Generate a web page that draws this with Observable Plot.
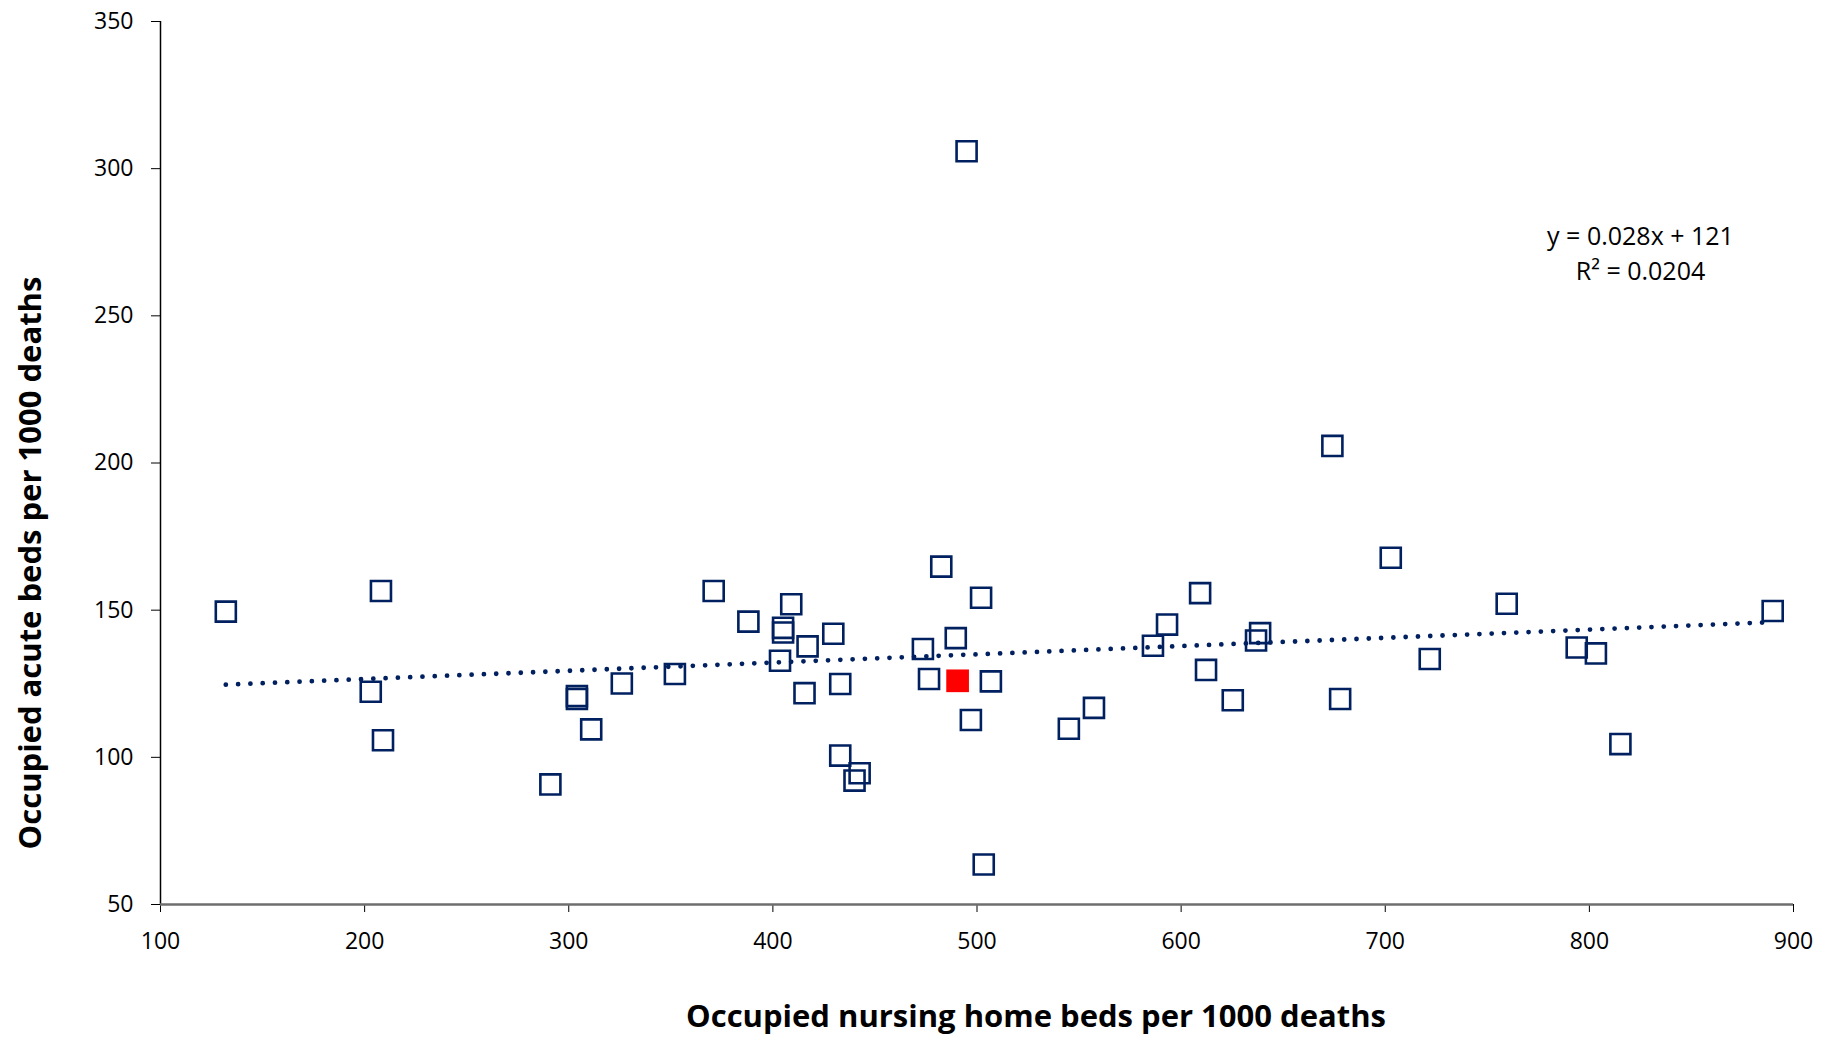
<!DOCTYPE html>
<html>
<head>
<meta charset="utf-8">
<script src="https://cdn.jsdelivr.net/npm/d3@7"></script>
<script src="https://cdn.jsdelivr.net/npm/@observablehq/plot@0.6"></script>
<style>
  body { margin: 0; background: #fff; }
  #chart svg { display: block; }
</style>
</head>
<body>
<div id="chart"></div>
<script>
// nursing home beds (x) and acute beds (y), per 1000 deaths
const nursingBeds = [
  132, 208, 203, 209, 291, 304, 304, 311, 326, 352,
  371, 388, 409, 405, 405, 403.5, 417, 415.5, 429.6, 433,
  433, 442.5, 440, 482.5, 502, 489.6, 473.5, 476.5, 506.8, 497,
  503.3, 545, 557.3, 586.2, 593.1, 609.3, 612.2, 625.3, 638.7, 636.7,
  702.7, 677.9, 721.8, 759.5, 793.8, 803.2, 815.2, 889.8, 494.9, 674.1
];
const acuteBeds = [
  149.5, 156.5, 122.3, 105.8, 90.8, 120.8, 119.8, 109.5, 125.1, 128.3,
  156.5, 146.1, 152, 144, 142.4, 132.8, 137.7, 121.8, 142, 124.9,
  100.6, 94.6, 92.1, 164.8, 154.2, 140.5, 136.8, 126.6, 125.8, 112.7,
  63.6, 109.7, 116.8, 137.9, 145.1, 155.8, 129.7, 119.4, 142.2, 139.7,
  167.8, 119.8, 133.4, 152.2, 137.3, 135.3, 104.5, 149.7, 305.9, 205.8
];

// the highlighted (red) point
const highlightX = [490.5];
const highlightY = [126];

// linear trend as printed on the chart
const trendSlope = 0.028;
const trendIntercept = 121;
const trendLabel = "y = 0.028x + 121";
const r2Label = "R² = 0.0204";

const xTicks = [100, 200, 300, 400, 500, 600, 700, 800, 900];
const yTicks = [50, 100, 150, 200, 250, 300, 350];

const xTitle = "Occupied nursing home beds per 1000 deaths";
const yTitle = "Occupied acute beds per 1000 deaths";

const navy = "#002060";

const points = nursingBeds.map((x, i) => ({x, y: acuteBeds[i]}));
const highlight = highlightX.map((x, i) => ({x, y: highlightY[i]}));
const trend = d3.extent(nursingBeds).map(x => ({x, y: trendSlope * x + trendIntercept}));

const chart = Plot.plot({
  width: 1829,
  height: 1043,
  marginTop: 21,
  marginRight: 36,
  marginBottom: 139,
  marginLeft: 160,
  style: {fontFamily: "'Open Sans', sans-serif", fontSize: "23px", color: "#000", background: "#fff"},
  x: {domain: [100, 900]},
  y: {domain: [50, 350]},
  marks: [
    Plot.axisX({ticks: xTicks, tickSize: 8, tickPadding: 20, label: null, tickFormat: d3.format("d")}),
    Plot.axisY({ticks: yTicks, tickSize: 9, tickPadding: 18, label: null, tickFormat: d3.format("d")}),
    Plot.ruleX([100], {stroke: "#000", strokeWidth: 1.5}),
    Plot.ruleY([50], {stroke: "#6e6e6e", strokeWidth: 2.5}),
    // dotted trend line
    Plot.line(trend, {x: "x", y: "y", stroke: navy, strokeWidth: 4.8,
      strokeDasharray: "0 12.3", strokeLinecap: "round"}),
    Plot.dot(points, {x: "x", y: "y", symbol: "square", r: 11.3,
      stroke: navy, strokeWidth: 2.6, fill: "none"}),
    Plot.dot(highlight, {x: "x", y: "y", symbol: "square", r: 12.8,
      fill: "#ff0000", stroke: "none"}),
    // regression annotation
    Plot.text([trendLabel], {frameAnchor: "top-right", dx: -153, dy: 206,
      textAnchor: "middle", fontSize: 25, fill: "#000"}),
    Plot.text([r2Label], {frameAnchor: "top-right", dx: -153, dy: 241,
      textAnchor: "middle", fontSize: 25, fill: "#000"}),
    // axis titles
    Plot.text([xTitle], {frameAnchor: "bottom", dx: 59, dy: 122,
      fontSize: 31, fontWeight: "bold", fill: "#000"}),
    Plot.text([yTitle], {frameAnchor: "left", textAnchor: "middle", dx: -129, dy: 100, rotate: -90,
      fontSize: 31, fontWeight: "bold", fill: "#000"})
  ]
});

document.querySelector("#chart").appendChild(chart);
</script>
</body>
</html>
